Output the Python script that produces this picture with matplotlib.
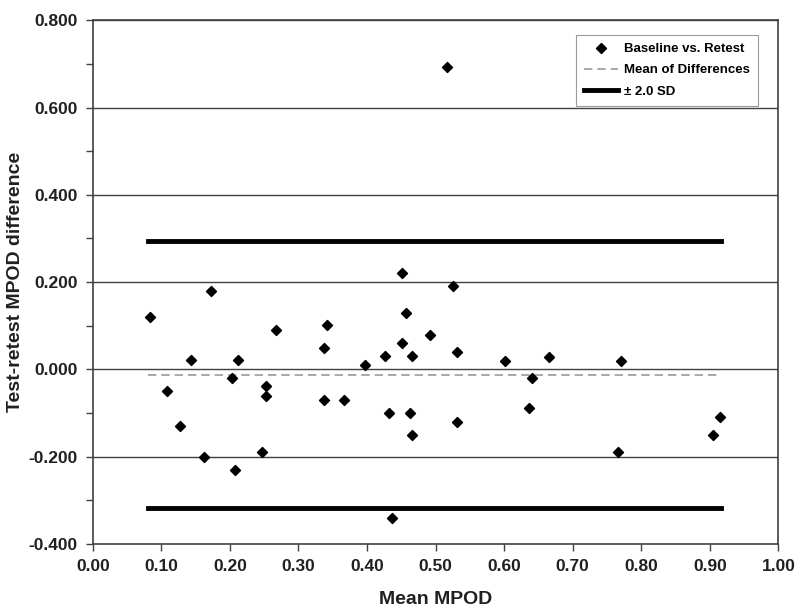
import numpy as np
import matplotlib
matplotlib.use('Agg')
import matplotlib.pyplot as plt

# Bland-Altman data
mean_mpod = [0.083, 0.108, 0.127, 0.143, 0.162, 0.172, 0.203, 0.207, 0.212, 0.247,
             0.253, 0.253, 0.267, 0.337, 0.337, 0.342, 0.366, 0.397, 0.426, 0.432,
             0.437, 0.451, 0.451, 0.457, 0.462, 0.466, 0.466, 0.492, 0.517, 0.526,
             0.531, 0.531, 0.601, 0.636, 0.641, 0.666, 0.766, 0.770, 0.905, 0.915]
diff_mpod = [0.120, -0.049, -0.130, 0.021, -0.200, 0.180, -0.019, -0.231, 0.021, -0.190,
             -0.038, -0.060, 0.091, 0.050, -0.070, 0.101, -0.070, 0.010, 0.030, -0.100,
             -0.341, 0.220, 0.060, 0.130, -0.100, 0.030, -0.150, 0.080, 0.692, 0.190,
             0.040, -0.120, 0.020, -0.089, -0.019, 0.029, -0.190, 0.020, -0.150, -0.110]

line_x = [0.081, 0.916]
mean_diff = -0.012
upper_sd = 0.295
lower_sd = -0.318

plt.rcParams['font.family'] = ['Liberation Sans', 'DejaVu Sans']
plt.rcParams['font.weight'] = 'bold'

fig = plt.figure(figsize=(8, 6.14), dpi=100)
ax = fig.add_axes([0.116, 0.114, 0.857, 0.853])

# horizontal grid at major y ticks
for yv in np.arange(-0.2, 0.81, 0.2):
    ax.axhline(yv, color='#404040', lw=1.0, zorder=1)

ax.scatter(mean_mpod, diff_mpod, marker='D', s=26, c='k', zorder=4,
           label='Baseline vs. Retest')
ax.plot(line_x, [mean_diff, mean_diff], color='#999999', lw=1.2, ls=(0, (5, 3)),
        zorder=3, label='Mean of Differences')
ax.plot(line_x, [upper_sd, upper_sd], color='k', lw=3.5, zorder=3, label='± 2.0 SD')
ax.plot(line_x, [lower_sd, lower_sd], color='k', lw=3.5, zorder=3)

ax.set_xlim(0, 1)
ax.set_ylim(-0.4, 0.8)
ax.set_xticks(np.arange(0, 1.01, 0.1))
ax.set_xticklabels(['%.2f' % v for v in np.arange(0, 1.01, 0.1)])
ax.set_yticks(np.arange(-0.4, 0.81, 0.2))
ax.set_yticklabels(['%.3f' % v for v in np.arange(-0.4, 0.81, 0.2)])
ax.set_yticks(np.arange(-0.3, 0.8, 0.2), minor=True)
ax.tick_params(axis='both', which='major', direction='out', length=5, width=1,
               color='#404040', labelsize=12.5, pad=6)
ax.tick_params(axis='y', which='minor', direction='out', length=5, width=1,
               color='#404040')
for lab in ax.get_xticklabels() + ax.get_yticklabels():
    lab.set_fontweight('bold')
    lab.set_color('#202020')
for sp in ax.spines.values():
    sp.set_color('#404040')
    sp.set_linewidth(1.2)

ax.set_xlabel('Mean MPOD', fontsize=14, fontweight='bold', labelpad=12, color='#202020')
ax.set_ylabel('Test-retest MPOD difference', fontsize=14, fontweight='bold',
              labelpad=3, color='#202020')

leg = ax.legend(loc='upper right', bbox_to_anchor=(0.98, 0.985), fontsize=9.5,
                frameon=True, fancybox=False, edgecolor='#999999', framealpha=1,
                handlelength=2.6, handletextpad=0.45, borderpad=0.6,
                labelspacing=0.7, markerfirst=True)
leg.get_frame().set_linewidth(0.8)
for t in leg.get_texts():
    t.set_fontweight('bold')

fig.savefig('out.png', dpi=100)
